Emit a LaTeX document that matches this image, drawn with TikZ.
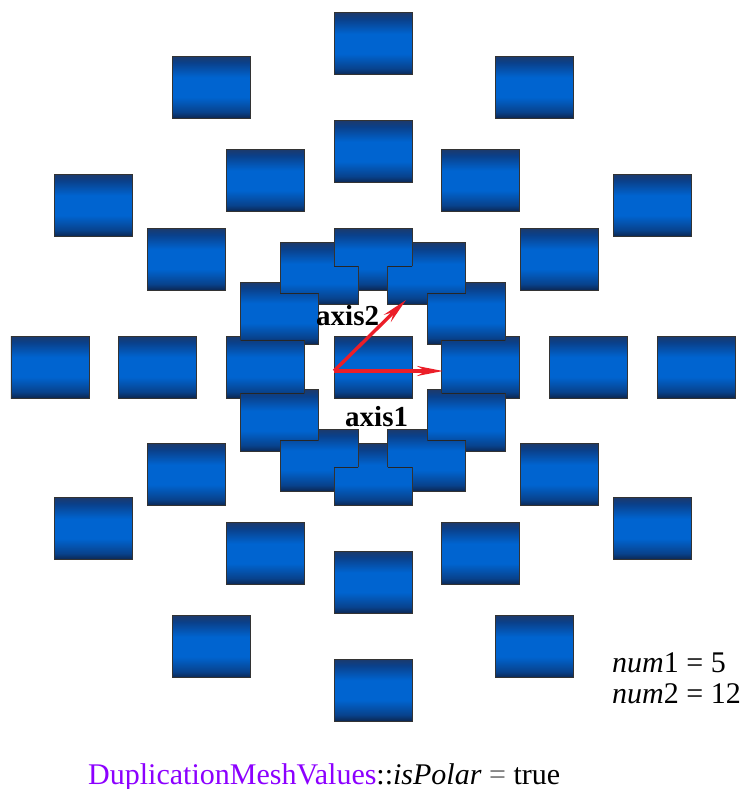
\documentclass[tikz,border=0pt]{standalone}
\usepackage{fontspec}
\setmainfont{Liberation Serif}
\usetikzlibrary{arrows.meta}

\definecolor{cylTop}{RGB}{28,58,108}
\definecolor{cylUp}{RGB}{10,64,138}
\definecolor{cylMid}{RGB}{0,100,208}
\definecolor{cylLow}{RGB}{8,66,140}
\definecolor{cylBot}{RGB}{12,38,80}
\definecolor{axisred}{RGB}{235,30,40}
\definecolor{classviolet}{RGB}{140,0,255}

% dark - bright - dark, like a lying cylinder
\pgfdeclareverticalshading{cylshade}{100bp}{color(0bp)=(cylBot); color(25bp)=(cylBot);
  color(30bp)=(cylLow); color(42bp)=(cylMid); color(58bp)=(cylMid);
  color(70bp)=(cylUp); color(75bp)=(cylTop); color(100bp)=(cylTop)}

\tikzset{
  cyl/.style={shading=cylshade, draw=black!80, line width=0.8pt},
  seam/.style={draw=black!85, line width=0.9pt},
  axisarrow/.style={draw=axisred, line width=3.4pt, -{Stealth[length=26pt,width=10pt,inset=9pt]}},
  axislabel/.style={font=\fontsize{29}{32}\selectfont\bfseries, anchor=base west},
  infotext/.style={font=\fontsize{30}{33}\selectfont, anchor=base west, inner sep=0pt}
}

\newcommand{\rr}{107.7}

\begin{document}
\begin{tikzpicture}[x=1pt,y=1pt]
\useasboundingbox (0,0) rectangle (747,-789);

\begin{scope}[shift={(373,-367)}]
  % center copy and three rings of twelve
  \path[cyl] (-39,-31) rectangle +(78,62);
  \foreach \r in {1,2,3}
    \foreach \a in {0,30,...,330}
      \path[cyl] ({\r*\rr*cos(\a)-39},{\r*\rr*sin(\a)-31}) rectangle +(78,62);

  % inner ring: neighbours cut each other half way
  \foreach \a in {0,30,...,330}{
    \pgfmathsetmacro{\b}{\a+30}
    \pgfmathsetmacro{\xa}{\rr*cos(\a)}
    \pgfmathsetmacro{\ya}{\rr*sin(\a)}
    \pgfmathsetmacro{\xb}{\rr*cos(\b)}
    \pgfmathsetmacro{\yb}{\rr*sin(\b)}
    \pgfmathsetmacro{\ym}{(\ya+\yb)/2}
    \ifdim\ya pt>\yb pt
      \xdef\xu{\xa}\xdef\yu{\ya}\xdef\xl{\xb}\xdef\yl{\yb}
    \else
      \xdef\xu{\xb}\xdef\yu{\yb}\xdef\xl{\xa}\xdef\yl{\ya}
    \fi
    \begin{scope}
      \clip (\xl-40,\yl-32) rectangle +(80,64);
      \clip (-500,\ym) rectangle (500,500);
      \path[cyl] (\xu-39,\yu-31) rectangle +(78,62);
    \end{scope}
    \begin{scope}
      \clip (\xu-40,\yu-32) rectangle +(80,64);
      \clip (-500,\ym) rectangle (500,-500);
      \path[cyl] (\xl-39,\yl-31) rectangle +(78,62);
    \end{scope}
    \begin{scope}
      \clip (\xu-39,\yu-31) rectangle +(78,62);
      \clip (\xl-39,\yl-31) rectangle +(78,62);
      \path[seam] (-500,\ym) -- (500,\ym);
    \end{scope}
  }
\end{scope}

% axes
\coordinate (o) at (334,-371);
\coordinate (ax1) at (443,-371);
\coordinate (ax2) at (406,-300);
\draw[axisarrow] (o) -- (ax1);
\draw[axisarrow] (o) -- (ax2);
\node[axislabel, inner sep=0pt] (lbl2) at (316,-325) {axis2};
\node[axislabel, inner sep=0pt] (lbl1) at (345,-426) {axis1};

% values
\node[infotext] (num1) at (612,-672) {\textit{num}1 = 5};
\node[infotext] (num2) at (612,-703) {\textit{num}2 = 12};
\node[infotext] (flag) at (88,-784)
  {\textcolor{classviolet}{DuplicationMeshValues}::\textit{isPolar} \textcolor{black!60}{=} true};
\end{tikzpicture}
\end{document}
